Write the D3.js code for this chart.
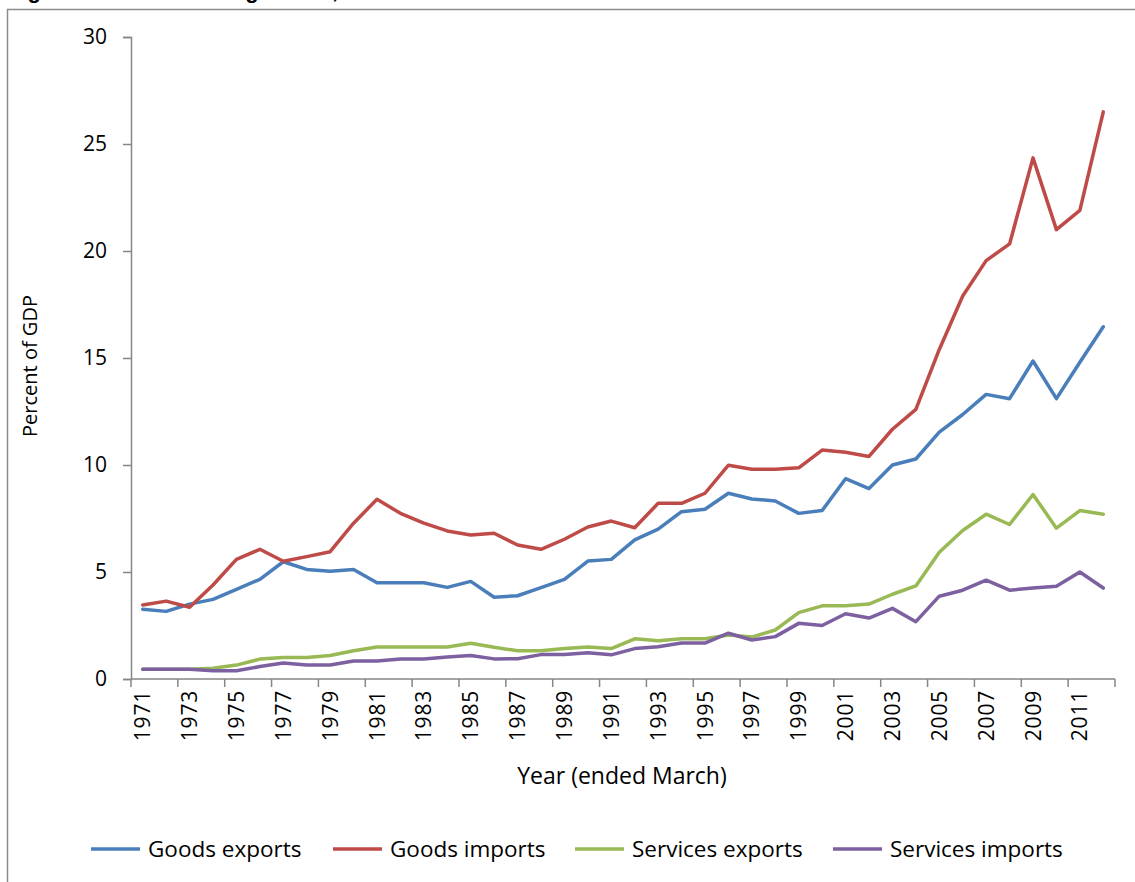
<!DOCTYPE html>
<html>
<head>
<meta charset="utf-8">
<script src="https://cdn.jsdelivr.net/npm/d3@7"></script>
<style>
  body { margin: 0; background: #fff; }
  svg { display: block; }
  svg text { font-family: "Open Sans", sans-serif; fill: #000; }
</style>
</head>
<body>
<div id="chart"></div>
<script>
// data (percent of GDP, years ended March)
var years = d3.range(1971, 2013);
var yTicks = [0, 5, 10, 15, 20, 25, 30];
var seriesNames = ["Goods exports", "Goods imports", "Services exports", "Services imports"];
var goodsExports = [3.26, 3.16, 3.5, 3.72, 4.19, 4.66, 5.48, 5.12, 5.03, 5.12,
  4.5, 4.5, 4.5, 4.28, 4.56, 3.82, 3.89, 4.27, 4.66, 5.51,
  5.59, 6.5, 7.0, 7.82, 7.93, 8.68, 8.41, 8.32, 7.74, 7.87,
  9.36, 8.9, 10.0, 10.28, 11.54, 12.36, 13.3, 13.1, 14.86, 13.1,
  14.8, 16.46];
var goodsImports = [3.46, 3.64, 3.35, 4.39, 5.59, 6.06, 5.5, 5.72, 5.95, 7.28,
  8.4, 7.74, 7.28, 6.92, 6.73, 6.81, 6.26, 6.06, 6.53, 7.1,
  7.38, 7.07, 8.21, 8.21, 8.68, 9.99, 9.8, 9.8, 9.87, 10.7,
  10.6, 10.4, 11.67, 12.6, 15.4, 17.9, 19.55, 20.33, 24.35, 21.0,
  21.9, 26.5];
var servicesExports = [0.45, 0.45, 0.45, 0.5, 0.65, 0.93, 1.01, 1.01, 1.1, 1.32,
  1.5, 1.5, 1.5, 1.5, 1.67, 1.48, 1.32, 1.32, 1.42, 1.5,
  1.42, 1.88, 1.79, 1.88, 1.88, 2.06, 1.96, 2.29, 3.1, 3.42,
  3.42, 3.5, 3.96, 4.35, 5.92, 6.94, 7.7, 7.22, 8.62, 7.05,
  7.87, 7.7];
var servicesImports = [0.45, 0.45, 0.45, 0.39, 0.39, 0.58, 0.75, 0.65, 0.65, 0.84,
  0.84, 0.93, 0.93, 1.03, 1.1, 0.94, 0.95, 1.14, 1.14, 1.23,
  1.13, 1.42, 1.51, 1.68, 1.68, 2.14, 1.82, 1.98, 2.6, 2.5,
  3.05, 2.85, 3.3, 2.68, 3.87, 4.15, 4.62, 4.15, 4.25, 4.33,
  5.0, 4.25];

var colors = ["#4a7ebb", "#be4b48", "#98b954", "#7d60a0"];
var allSeries = [goodsExports, goodsImports, servicesExports, servicesImports];

var W = 1135, H = 882;
var margin = {top: 37, right: 20, bottom: 203, left: 131},
    width = 1115 - margin.left,
    height = 679 - margin.top;

var svg = d3.select("#chart")
  .append("svg")
    .attr("width", W)
    .attr("height", H);

// outer frame (runs past the right / bottom edge like the source)
svg.append("rect")
  .attr("x", 7.5).attr("y", 9.5)
  .attr("width", 1140).attr("height", 900)
  .attr("fill", "none")
  .attr("stroke", "#8c8c8c")
  .attr("stroke-width", 1.5);

// title, mostly cut off at the top of the picture
svg.append("text")
  .attr("x", 8).attr("y", -2)
  .style("font-family", "Liberation Sans, Arial, sans-serif")
  .style("font-weight", "bold")
  .style("font-size", "22px")
  .text("Figure 1: Value of foreign trade, 1971–2012");

var g = svg.append("g")
  .attr("transform", "translate(" + margin.left + "," + margin.top + ")");

var x = d3.scaleBand()
  .domain(years)
  .range([0, width])
  .padding(0);

var y = d3.scaleLinear()
  .domain([0, 30])
  .range([height, 0]);

// Y axis
var yAxis = g.append("g")
  .call(d3.axisLeft(y).tickValues(yTicks).tickSize(8).tickPadding(16));
yAxis.select(".domain").attr("stroke", "#868686").attr("stroke-width", 1.5);
yAxis.selectAll(".tick line").attr("stroke", "#868686").attr("stroke-width", 1.5);
yAxis.selectAll("text")
  .style("font-size", "21px")
  .style("font-family", "Open Sans, sans-serif");

// X axis: category ticks between every second year
var xAxis = g.append("g")
  .attr("transform", "translate(0," + height + ")");
xAxis.append("line")
  .attr("x1", 0).attr("x2", width)
  .attr("stroke", "#868686").attr("stroke-width", 1.5);
var tickYears = years.filter(function(d, i) { return i % 2 === 0; });
xAxis.selectAll(".xtick")
  .data(tickYears.concat([null]))
  .enter().append("line")
    .attr("x1", function(d) { return d === null ? width : x(d); })
    .attr("x2", function(d) { return d === null ? width : x(d); })
    .attr("y1", 0).attr("y2", 8)
    .attr("stroke", "#868686").attr("stroke-width", 1.5);
xAxis.selectAll(".xlab")
  .data(tickYears)
  .enter().append("text")
    .attr("transform", function(d) {
      return "translate(" + (x(d) + x.bandwidth() / 2) + ",11) rotate(-90)";
    })
    .attr("text-anchor", "end")
    .attr("dy", "0.36em")
    .style("font-size", "21px")
    .style("letter-spacing", "0.8px")
    .text(function(d) { return d; });

// axis titles
svg.append("text")
  .attr("transform", "translate(37,366) rotate(-90)")
  .attr("text-anchor", "middle")
  .style("font-size", "20px")
  .text("Percent of GDP");

svg.append("text")
  .attr("x", 622).attr("y", 784)
  .attr("text-anchor", "middle")
  .style("font-size", "23px")
  .text("Year (ended March)");

// lines
var line = d3.line()
  .x(function(d, i) { return x(years[i]) + x.bandwidth() / 2; })
  .y(function(d) { return y(d); });

allSeries.forEach(function(s, k) {
  g.append("path")
    .datum(s)
    .attr("fill", "none")
    .attr("stroke", colors[k])
    .attr("stroke-width", 3.5)
    .attr("stroke-linejoin", "round")
    .attr("stroke-linecap", "round")
    .attr("d", line);
});

// legend
var legendX = [91, 333, 575, 833];
var legend = svg.append("g");
seriesNames.forEach(function(name, k) {
  legend.append("line")
    .attr("x1", legendX[k]).attr("x2", legendX[k] + 49)
    .attr("y1", 849).attr("y2", 849)
    .attr("stroke", colors[k]).attr("stroke-width", 3.5);
  legend.append("text")
    .attr("x", legendX[k] + 57).attr("y", 849)
    .attr("dy", "0.35em")
    .style("font-size", "22.5px")
    .text(name);
});
</script>
</body>
</html>
